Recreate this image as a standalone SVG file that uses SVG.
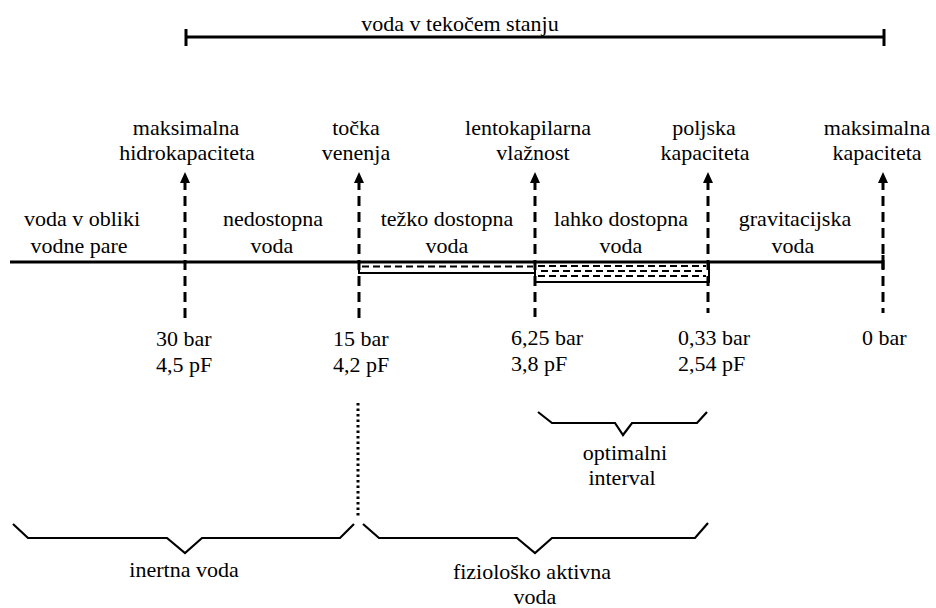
<svg xmlns="http://www.w3.org/2000/svg" xmlns:xlink="http://www.w3.org/1999/xlink" width="936" height="608" viewBox="0 0 936 608" font-family="'Liberation Serif', 'DejaVu Serif', serif">
<style>
text{font-family:'Liberation Serif','DejaVu Serif',serif;font-size:22px;fill:#000}
.c{text-anchor:middle}
.ln{stroke:#000;stroke-width:3;fill:none}
.th{stroke:#000;stroke-width:2;fill:none}
.dash{stroke:#000;stroke-width:3;stroke-dasharray:10 6;fill:none}
.dot{stroke:#000;stroke-width:3;stroke-dasharray:2.5 3;fill:none}
.bx{stroke:#000;stroke-width:1.8;stroke-dasharray:7 4;fill:none}
.br{stroke:#000;stroke-width:2.2;fill:none;stroke-linejoin:miter}
</style>
<defs>
<path id="ah" d="M-5,11 L0,0 L5,11 Z" fill="#000"/>
</defs>
<rect width="936" height="608" fill="#fff"/>

<g id="top-range">
<path class="ln" d="M186,37 H884" stroke-width="2.5"/>
<path class="ln" d="M186,29 V46 M884,29 V46" stroke-width="2.5"/>
<text class="c" x="460" y="31">voda v tekočem stanju</text>
</g>

<g id="connectors">
<path class="ln" d="M10,262 H883"/>
<path class="ln" d="M883,255 V269" stroke-width="2.5"/>
<use xlink:href="#ah" href="#ah" x="185" y="172"/>
<path class="ln" d="M185,180 V190"/>
<path class="dash" d="M185,196 V322"/>
<use xlink:href="#ah" href="#ah" x="359" y="172"/>
<path class="ln" d="M359,180 V190"/>
<path class="dash" d="M359,196 V320"/>
<use xlink:href="#ah" href="#ah" x="535" y="172"/>
<path class="ln" d="M535,180 V190"/>
<path class="dash" d="M535,196 V317"/>
<use xlink:href="#ah" href="#ah" x="708" y="172"/>
<path class="ln" d="M708,180 V190"/>
<path class="dash" d="M708,196 V313"/>
<use xlink:href="#ah" href="#ah" x="883" y="172"/>
<path class="ln" d="M883,180 V190"/>
<path class="dash" d="M883,196 V313"/>
<path class="dot" d="M358,403 V518"/>
</g>

<g id="box-tezko">
<path class="th" d="M359,262 V273 H535"/>
<path class="bx" d="M362,266.5 H533"/>
</g>
<g id="box-lahko">
<path class="th" d="M535,262 V282 H709 V262"/>
<path class="bx" d="M538,266 H706 M541,271 H706 M538,276 H706"/>
</g>

<g id="label-max-hidro">
<text class="c" x="186" y="135">maksimalna</text>
<text class="c" x="187" y="160">hidrokapaciteta</text>
</g>
<g id="label-tocka">
<text class="c" x="356" y="135">točka</text>
<text class="c" x="356" y="160">venenja</text>
</g>
<g id="label-lento">
<text class="c" x="528" y="135">lentokapilarna</text>
<text class="c" x="533" y="160">vlažnost</text>
</g>
<g id="label-poljska">
<text class="c" x="704" y="135">poljska</text>
<text class="c" x="705" y="160">kapaciteta</text>
</g>
<g id="label-max-kap">
<text class="c" x="877" y="135">maksimalna</text>
<text class="c" x="877" y="160">kapaciteta</text>
</g>

<g id="region-para">
<text class="c" x="82" y="226">voda v obliki</text>
<text class="c" x="79" y="253">vodne pare</text>
</g>
<g id="region-nedostopna">
<text class="c" x="273" y="226">nedostopna</text>
<text class="c" x="272" y="253">voda</text>
</g>
<g id="region-tezko">
<text class="c" x="447" y="226">težko dostopna</text>
<text class="c" x="447" y="253">voda</text>
</g>
<g id="region-lahko">
<text class="c" x="621" y="226">lahko dostopna</text>
<text class="c" x="621" y="253">voda</text>
</g>
<g id="region-grav">
<text class="c" x="795" y="226">gravitacijska</text>
<text class="c" x="793" y="253">voda</text>
</g>

<g id="val-30">
<text x="156" y="346">30 bar</text>
<text x="156" y="372">4,5 pF</text>
</g>
<g id="val-15">
<text x="333" y="346">15 bar</text>
<text x="333" y="372">4,2 pF</text>
</g>
<g id="val-625">
<text x="511" y="345">6,25 bar</text>
<text x="511" y="371">3,8 pF</text>
</g>
<g id="val-033">
<text x="678" y="345">0,33 bar</text>
<text x="678" y="371">2,54 pF</text>
</g>
<g id="val-0">
<text x="862" y="345">0 bar</text>
</g>

<g id="brace-optimal">
<path class="br" d="M538,412 L552,423 H615 L623,435 L632,423 H697 L707,412"/>
<text class="c" x="625" y="460">optimalni</text>
<text class="c" x="622" y="485">interval</text>
</g>
<g id="brace-inertna">
<path class="br" d="M13,524 L28,538 H167 L185,553 L202,538 H340 L354,524"/>
<text class="c" x="184" y="577">inertna voda</text>
</g>
<g id="brace-aktivna">
<path class="br" d="M363,524 L379,538 H517 L535,553 L552,538 H695 L708,523"/>
<text class="c" x="532" y="579">fiziološko aktivna</text>
<text class="c" x="535" y="604">voda</text>
</g>
</svg>
